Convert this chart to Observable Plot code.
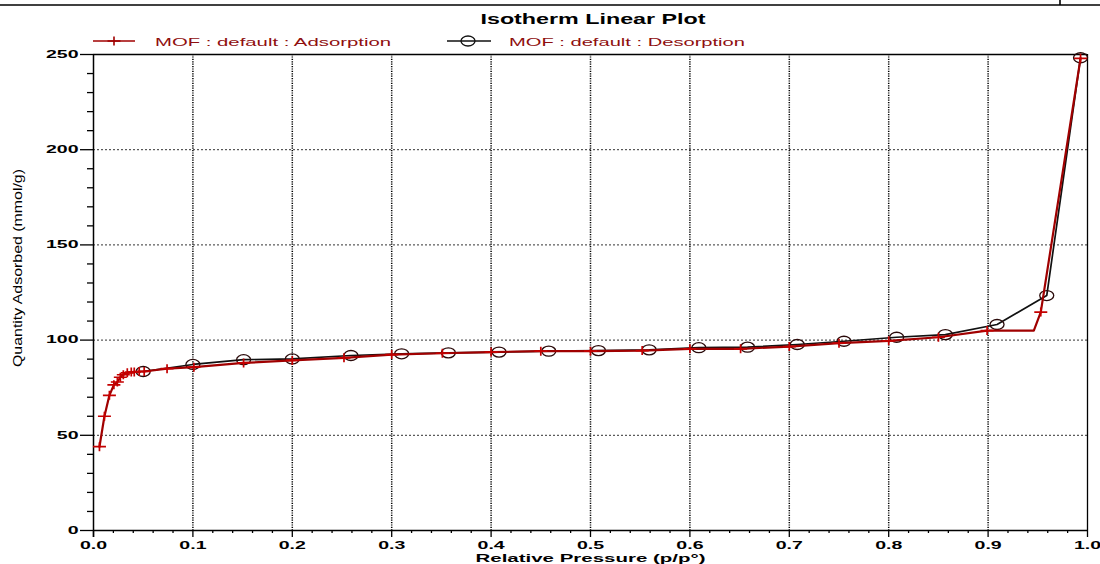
<!DOCTYPE html>
<html>
<head>
<meta charset="utf-8">
<script src="https://cdn.jsdelivr.net/npm/d3@7"></script>
<script src="https://cdn.jsdelivr.net/npm/@observablehq/plot@0.6"></script>
<style>
  html, body { margin: 0; padding: 0; background: #fff; }
  #wrap { width: 1100px; height: 564px; position: relative; overflow: hidden; }
  #wrap svg { display: block; }
</style>
</head>
<body>
<div id="wrap"></div>
<script>
// ---------- data ----------
const titleText = "Isotherm Linear Plot";
const seriesNames = ["MOF : default : Adsorption", "MOF : default : Desorption"];
const xTitle = "Relative Pressure (p/p°)";
const yTitle = "Quantity Adsorbed (mmol/g)";

const xMajor = [0, 0.1, 0.2, 0.3, 0.4, 0.5, 0.6, 0.7, 0.8, 0.9, 1.0];
const xTickLabels = ["0.0","0.1","0.2","0.3","0.4","0.5","0.6","0.7","0.8","0.9","1.0"];
const yMajor = [0, 50, 100, 150, 200, 250];
const yTickLabels = ["0","50","100","150","200","250"];

// Adsorption (p/p°, quantity); adsMarked = 0 -> point on the line without a marker
const adsP = [0.006,0.011,0.016,0.0205,0.024,0.027,0.030,0.034,0.038,0.041,0.046,0.051,0.074,0.101,0.151,0.200,0.252,0.300,0.351,0.400,0.450,0.500,0.552,0.600,0.651,0.700,0.750,0.800,0.850,0.899,0.946,0.953,0.993];
const adsQ = [44,60,71,76.5,78,80.5,81.8,82.8,83.2,83.2,83.5,83.5,85,85.8,88,89.3,90.7,92.4,93.1,93.7,94.2,94.2,94.5,95.4,95.4,96.6,98.4,99.6,101.5,105,105,114.7,248];
const adsMarked = [1,1,1,1,1,1,1,1,1,1,1,1,1,1,1,1,1,1,1,1,1,1,1,1,1,1,1,1,1,1,0,1,1];

// Desorption (from high to low pressure)
const desP = [0.993,0.959,0.909,0.857,0.808,0.755,0.708,0.658,0.609,0.559,0.508,0.458,0.408,0.357,0.310,0.259,0.200,0.151,0.100,0.050];
const desQ = [248.3,123.4,108.2,102.9,101.5,99.4,97.7,96.3,96,94.9,94.5,94.2,93.7,93.3,92.8,91.9,90.1,89.7,87.2,83.5];

// ---------- build tables ----------
const ads = adsP.map((p, i) => ({p, q: adsQ[i], m: adsMarked[i]}));
const des = desP.map((p, i) => ({p, q: desQ[i]}));
const xMinor = d3.range(0, 1.0001, 0.02).filter(v => Math.abs(v * 10 - Math.round(v * 10)) > 1e-6);
const yMinor = d3.range(0, 251, 10).filter(v => v % 50 !== 0);

// custom symbols
const plusSym = {draw(ctx) { ctx.moveTo(-6.5, 0); ctx.lineTo(6.5, 0); ctx.moveTo(0, -4.5); ctx.lineTo(0, 4.5); }};
const ellSym = {draw(ctx) {
  const rx = 7, ry = 5, k = 0.5523;
  ctx.moveTo(rx, 0);
  ctx.bezierCurveTo(rx, ry * k, rx * k, ry, 0, ry);
  ctx.bezierCurveTo(-rx * k, ry, -rx, ry * k, -rx, 0);
  ctx.bezierCurveTo(-rx, -ry * k, -rx * k, -ry, 0, -ry);
  ctx.bezierCurveTo(rx * k, -ry, rx, -ry * k, rx, 0);
  ctx.closePath();
}};

const RED = "#c40000", DARKRED = "#a00000", LEGTEXT = "#8f0f0f";
const FONT = "'Liberation Sans', Arial, Helvetica, sans-serif";

// ---------- header (title + legend) ----------
const wrap = document.getElementById("wrap");
const head = d3.create("svg").attr("width", 1100).attr("height", 48)
  .style("font-family", FONT);
// page fragment lines at the very top
head.append("line").attr("x1", 0).attr("x2", 1100).attr("y1", 5).attr("y2", 5).attr("stroke", "#000").attr("stroke-width", 1.6);
head.append("line").attr("x1", 1060).attr("x2", 1060).attr("y1", 0).attr("y2", 5).attr("stroke", "#000").attr("stroke-width", 1.6);
const tt = head.append("text").attr("x", 593).attr("y", 24).attr("text-anchor", "middle")
  .attr("font-weight", "bold").attr("font-size", 15).attr("fill", "#000").text(titleText);
// legend item 1
head.append("line").attr("x1", 93).attr("x2", 135).attr("y1", 41).attr("y2", 41).attr("stroke", DARKRED).attr("stroke-width", 1.6);
head.append("path").attr("transform", "translate(114,41)").attr("d", d3.symbol(plusSym)()).attr("stroke", DARKRED).attr("stroke-width", 1.6).attr("fill", "none");
const l1 = head.append("text").attr("x", 155).attr("y", 45.5).attr("font-size", 11.5).attr("fill", LEGTEXT).text(seriesNames[0]);
// legend item 2
head.append("line").attr("x1", 447).attr("x2", 491).attr("y1", 41).attr("y2", 41).attr("stroke", "#111").attr("stroke-width", 1.4);
head.append("path").attr("transform", "translate(468,41)").attr("d", d3.symbol(ellSym)()).attr("stroke", "#111").attr("stroke-width", 1.3).attr("fill", "none");
const l2 = head.append("text").attr("x", 509).attr("y", 45.5).attr("font-size", 11.5).attr("fill", LEGTEXT).text(seriesNames[1]);
wrap.appendChild(head.node());

// ---------- plot ----------
const chart = Plot.plot({
  width: 1100,
  height: 516,
  marginTop: 6,
  marginBottom: 34,
  marginLeft: 93,
  marginRight: 13,
  x: {domain: [0, 1]},
  y: {domain: [0, 250]},
  style: {fontFamily: FONT, fontSize: "10px", fontWeight: "bold", background: "#fff", color: "#000", overflow: "visible"},
  marks: [
    Plot.gridX(xMajor.filter(v => v > 0 && v < 1), {stroke: "#000", strokeOpacity: 1, strokeWidth: 1.5, strokeDasharray: "1.2,1.2"}),
    Plot.gridY(yMajor.filter(v => v > 0 && v < 250), {stroke: "#333", strokeOpacity: 1, strokeWidth: 1, strokeDasharray: "2,2"}),
    Plot.ruleY([250], {stroke: "#000", strokeWidth: 1.3}),
    Plot.ruleX([1], {stroke: "#000", strokeWidth: 1.3}),
    Plot.ruleY([0], {stroke: "#000", strokeWidth: 1.5}),
    Plot.ruleX([0], {stroke: "#000", strokeWidth: 1.5, insetBottom: -7}),
    Plot.axisY(yMajor, {tickSize: 13, tickPadding: 2, tickFormat: d => yTickLabels[yMajor.indexOf(d)], label: null, strokeWidth: 1.3}),
    Plot.axisY(yMinor, {tickSize: 6, tickFormat: () => "", label: null, strokeWidth: 1.3}),
    Plot.axisX(xMajor, {tickSize: 7, tickPadding: 4, tickFormat: d => xTickLabels[xMajor.indexOf(d)], label: null, strokeWidth: 1.3}),
    Plot.axisX(xMinor, {tickSize: 3, tickFormat: () => "", label: null, strokeWidth: 1.3}),
    Plot.text([xTitle], {frameAnchor: "bottom", dy: 31, text: d => d, fontSize: 11, fontWeight: "bold", fill: "#000"}),
    Plot.text([yTitle], {frameAnchor: "left", dx: -76, dy: -23, rotate: -90, text: d => d, fontSize: 13, fontWeight: "normal", fill: "#000"}),
    // desorption
    Plot.line(des, {x: "p", y: "q", stroke: "#111", strokeWidth: 1.7}),
    Plot.dot(des, {x: "p", y: "q", symbol: ellSym, fill: "none", stroke: "#2a0a0a", strokeWidth: 1.3}),
    // adsorption
    Plot.line(ads, {x: "p", y: "q", stroke: DARKRED, strokeWidth: 2.2}),
    Plot.dot(ads.filter(d => d.m === 1), {x: "p", y: "q", symbol: plusSym, fill: "none", stroke: RED, strokeWidth: 1.7})
  ]
});
wrap.appendChild(chart);

// ---------- horizontal stretch of texts to match the reference ----------
function fit(el, len) { el.setAttribute("textLength", len); el.setAttribute("lengthAdjust", "spacingAndGlyphs"); }
fit(tt.node(), 225);
fit(l1.node(), 236);
fit(l2.node(), 236);
chart.querySelectorAll('g[aria-label="x-axis tick label"] text, g[aria-label="y-axis tick label"] text').forEach(t => {
  const L = t.getComputedTextLength();
  if (L > 0) fit(t, L * 1.95);
});
const wrapTop = wrap.getBoundingClientRect().top;
chart.querySelectorAll("text").forEach(t => {
  if (t.textContent === xTitle) fit(t, 230);
  if (t.textContent === yTitle) {
    fit(t, 198);
    // re-centre the rotated title on the reference's position (screen y ≈ 268)
    const r = t.getBoundingClientRect();
    const cy = r.top + r.height / 2 - wrapTop;
    const x0 = +(t.getAttribute("x") || 0);
    t.setAttribute("x", x0 + (cy - 268));
  }
});
</script>
</body>
</html>
